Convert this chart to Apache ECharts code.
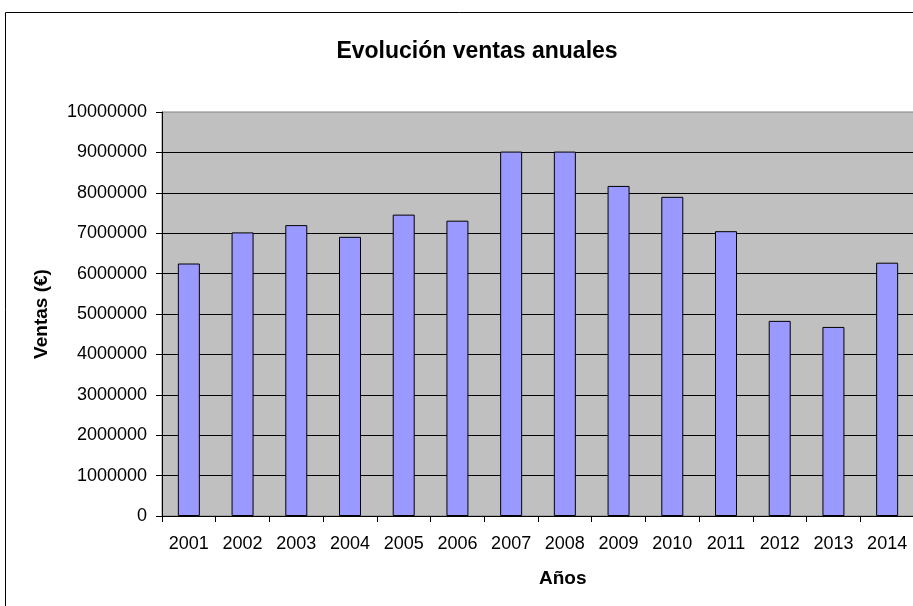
<!DOCTYPE html>
<html>
<head>
	<meta charset="utf-8">
	<title>Evolución ventas anuales</title>
	<script src="https://cdn.jsdelivr.net/npm/echarts@6/dist/echarts.min.js" charset="utf-8"></script>
	<style>
		html, body { margin: 0; padding: 0; background: #fff; }
		#ventasChart { width: 913px; height: 606px; }
	</style>
</head>
<body>
<div id="ventasChart"></div>
<script>
	// datos
	var anios = ['2001', '2002', '2003', '2004', '2005', '2006', '2007', '2008', '2009', '2010', '2011', '2012', '2013', '2014'];
	var ventas = [6250000, 7020000, 7200000, 6910000, 7460000, 7310000, 9020000, 9020000, 8170000, 7900000, 7050000, 4830000, 4680000, 6270000];
	var ejeY = { min: 0, max: 10000000, interval: 1000000 };

	var fuente = 'Arial, "Liberation Sans", sans-serif';

	var myChart = echarts.init(document.getElementById('ventasChart'));
	var option;

	option = {
		backgroundColor: '#ffffff',
		animation: false,
		title: {
			text: 'Evolución ventas anuales',
			left: 472,
			top: 35,
			textAlign: 'center',
			textStyle: { fontFamily: fuente, fontSize: 23, fontWeight: 'bold', color: '#000' }
		},
		graphic: [{
			// marco exterior del grafico
			type: 'rect',
			shape: { x: 5.5, y: 12.5, width: 930, height: 620 },
			style: { fill: 'none', stroke: '#000', lineWidth: 1 },
			silent: true
		}, {
			type: 'text',
			left: 539,
			top: 569,
			style: { text: 'Años', font: 'bold 19px ' + fuente, fill: '#000', textAlign: 'center' }
		}],
		grid: {
			left: 162,
			top: 112,
			right: -1,
			bottom: 90,
			show: true,
			backgroundColor: '#c0c0c0',
			borderColor: '#808080',
			borderWidth: 1,
			outerBoundsMode: 'none'
		},
		xAxis: {
			type: 'category',
			data: anios,
			axisLine: { lineStyle: { color: '#000', width: 1 } },
			axisTick: { show: true, alignWithLabel: false, length: 6, lineStyle: { color: '#000' } },
			axisLabel: { fontFamily: fuente, fontSize: 18, color: '#000', margin: 19, interval: 0 }
		},
		yAxis: {
			type: 'value',
			min: ejeY.min,
			max: ejeY.max,
			interval: ejeY.interval,
			name: 'Ventas (€)',
			nameLocation: 'middle',
			nameGap: 111,
			nameTextStyle: { fontFamily: fuente, fontSize: 19, fontWeight: 'bold', color: '#000' },
			axisLine: { show: true, lineStyle: { color: '#000', width: 1 } },
			axisTick: { show: true, length: 6, lineStyle: { color: '#000' } },
			axisLabel: {
				fontFamily: fuente, fontSize: 18, color: '#000', margin: 15,
				formatter: function (v) { return String(v); }
			},
			splitLine: { show: true, showMaxLine: false, lineStyle: { color: '#000', width: 1 } }
		},
		series: [{
			type: 'bar',
			data: ventas,
			barWidth: 22,
			itemStyle: { color: '#9999ff', borderColor: '#000', borderWidth: 1 }
		}]
	};

	option && myChart.setOption(option);
</script>
</body>
</html>
